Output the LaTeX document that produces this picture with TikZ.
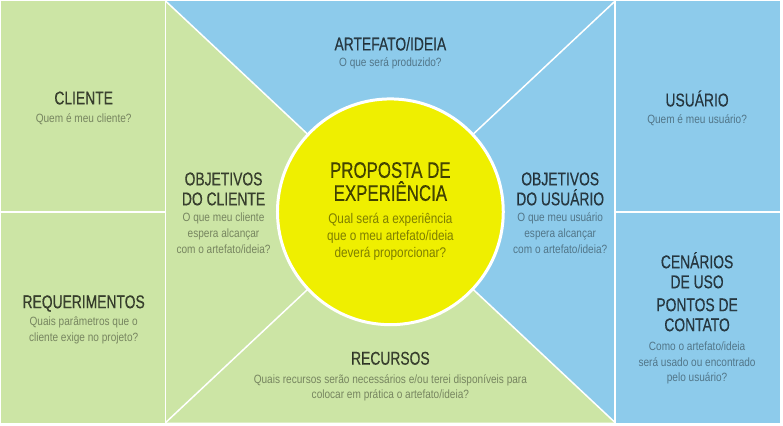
\documentclass[tikz,border=0pt]{standalone}
\usepackage{fontspec}
\setmainfont{Liberation Sans}[FakeStretch=0.84]
\newfontfamily\headfont{Liberation Sans}[FakeStretch=0.75,FakeBold=0.4]
\definecolor{canvasgreen}{HTML}{CCE5A5}
\definecolor{canvasblue}{HTML}{8DCBEB}
\definecolor{canvasyellow}{HTML}{EFEF00}
\tikzset{
  head/.style={font=\headfont\fontsize{18.5}{20}\selectfont, text=black, text opacity=0.7, align=center, inner sep=0pt, anchor=base},
  ask/.style={font=\fontsize{12}{15.5}\selectfont, text=black, text opacity=0.42, align=center, inner sep=0pt, anchor=base},
  cut/.style={white, line width=1.5pt}
}

\begin{document}
\begin{tikzpicture}[x=1pt,y=-1pt]
        \fill[white] (0,0) rectangle (783,426);
        \coordinate (c) at (390,212);
        \coordinate (tl) at (165,1);
        \coordinate (tr) at (615,1);
        \coordinate (bl) at (165,423);
        \coordinate (br) at (615,423);
        % side columns
        \fill[canvasgreen] (0,1) rectangle (165,423);
        \fill[canvasblue] (615,1) rectangle (780,423);
        % middle wedges
        \fill[canvasblue] (tl)--(tr)--(c)--cycle;
        \fill[canvasblue] (tr)--(br)--(c)--cycle;
        \fill[canvasgreen] (br)--(bl)--(c)--cycle;
        \fill[canvasgreen] (bl)--(tl)--(c)--cycle;
        \draw[cut] (tl)--(c);
        \draw[cut] (tr)--(c);
        \draw[cut] (bl)--(c);
        \draw[cut] (br)--(c);
        \draw[cut] (tl)--(bl);
        \draw[cut] (tr)--(br);
        \draw[cut] (0,212)--(165,212);
        \draw[cut] (615,212)--(780,212);
        \filldraw[fill=canvasyellow, draw=white, line width=3pt] (c) circle[radius=113pt];
        % labels (base = last line)
        \node[head] (artefato) at (390,50.5) {ARTEFATO/IDEIA};
        \node[ask] (artefato-q) at (390,67) {O que será produzido?};
        \node[head] (cliente) at (83,104.5) {CLIENTE};
        \node[ask] (cliente-q) at (83,123) {Quem é meu cliente?};
        \node[head] (usuario) at (697,106.5) {USUÁRIO};
        \node[ask] (usuario-q) at (697,124) {Quem é meu usuário?};
        \node[head] (obj-cliente) at (223,205.5) {OBJETIVOS\\DO CLIENTE};
        \node[ask, font=\fontsize{12}{16}\selectfont] (obj-cliente-q) at (223,254) {O que meu cliente\\espera alcançar\\com o artefato/ideia?};
        \node[head] (obj-usuario) at (560,205.5) {OBJETIVOS\\DO USUÁRIO};
        \node[ask, font=\fontsize{12}{16}\selectfont] (obj-usuario-q) at (560,254) {O que meu usuário\\espera alcançar\\com o artefato/ideia?};
        \node[head, font=\headfont\fontsize{22.5}{23}\selectfont] (proposta) at (390,201) {PROPOSTA DE\\EXPERIÊNCIA};
        \node[ask, font=\fontsize{14}{17}\selectfont, text opacity=0.47] (proposta-q) at (390,258) {Qual será a experiência\\que o meu artefato/ideia\\deverá proporcionar?};
        \node[head] (requer) at (83,308.5) {REQUERIMENTOS};
        \node[ask] (requer-q) at (83,341.5) {Quais parâmetros que o\\cliente exige no projeto?};
        \node[head] (recursos) at (390,365) {RECURSOS};
        \node[ask, font=\fontsize{12}{14.5}\selectfont] (recursos-q) at (390,398.5) {Quais recursos serão necessários e/ou terei disponíveis para\\colocar em prática o artefato/ideia?};
        \node[head] (cenarios) at (697,331.5) {CENÁRIOS\\DE USO\\[3pt]PONTOS DE\\CONTATO};
        \node[ask] (cenarios-q) at (697,382) {Como o artefato/ideia\\será usado ou encontrado\\pelo usuário?};
\end{tikzpicture}
\end{document}
